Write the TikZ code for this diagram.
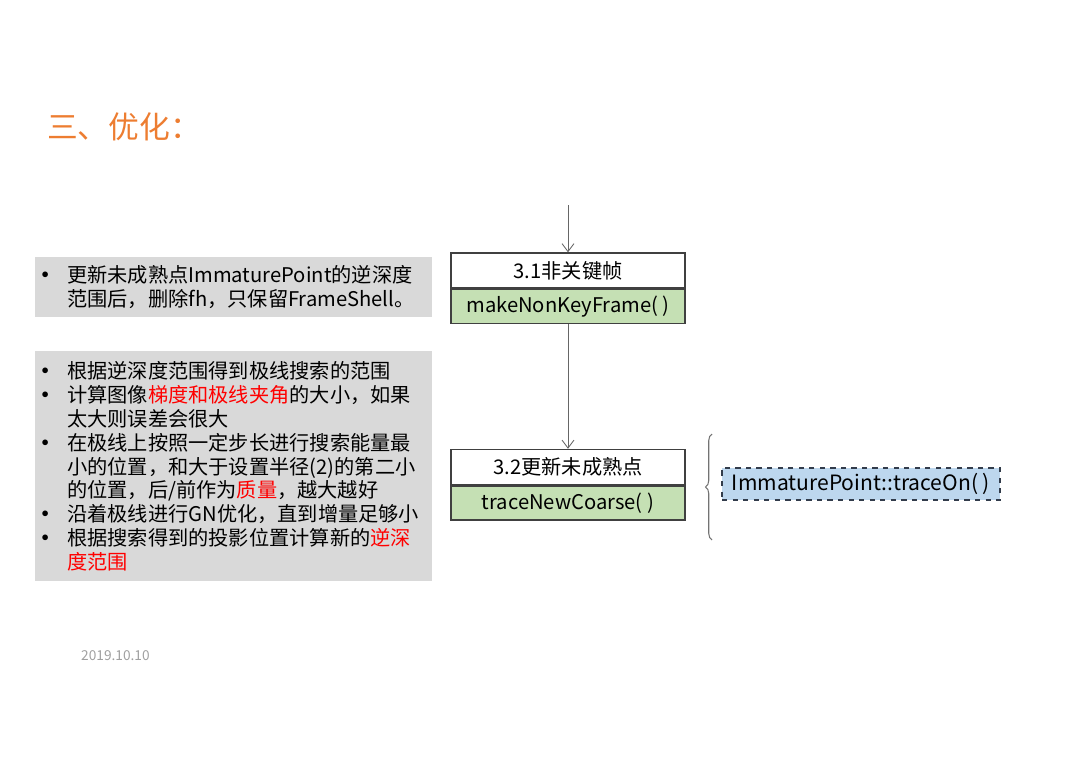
\documentclass[tikz,border=0pt]{standalone}
\usepackage{fontspec}
\setmainfont{Noto Sans CJK SC}
\usetikzlibrary{positioning,arrows.meta,decorations.pathreplacing}
\definecolor{TitleOrange}{RGB}{237,125,49}
\definecolor{NoteGray}{RGB}{217,217,217}
\definecolor{CallGreen}{RGB}{197,224,180}
\definecolor{HookBlue}{RGB}{189,215,238}
\definecolor{HookEdge}{RGB}{50,60,75}
\definecolor{DateGray}{RGB}{160,160,160}
\tikzset{
  note/.style={fill=NoteGray,inner xsep=0.2cm,inner ysep=0pt,text width=7.54cm,align=left,
    anchor=north west,font=\fontsize{11.5}{13.6}\selectfont},
  stage/.style={draw=black!75,line width=0.8pt,minimum width=4.68cm,minimum height=0.7cm,
    inner sep=0pt,font=\fontsize{11.5}{13.6}\selectfont},
  call/.style={stage,fill=CallGreen,minimum height=0.68cm},
  flow/.style={draw=black!60,line width=0.5pt,-{Straight Barb[length=1.6mm,width=2.4mm]}},
}
\tikzset{hook/.style={draw=HookEdge,fill=HookBlue,dashed,line width=1pt,minimum width=5.56cm,
    minimum height=0.64cm,inner sep=0pt,font=\fontsize{12}{14}\selectfont},
  group/.style={draw=black!55,line width=0.6pt,decorate,decoration={brace,amplitude=0.13cm}}}
\newcommand{\bul}{\makebox[0.44cm][l]{\kern-0.2cm\textbf{•}}}
\newcommand{\gap}{\hspace*{0.44cm}}

\begin{document}
\begin{tikzpicture}[x=0.02cm,y=-0.02cm]
\useasboundingbox (0,0) rectangle (1080,761);
\node[anchor=west,text=TitleOrange,font=\fontsize{17.5}{20}\selectfont] (title) at (41,127) {三、优化：};
% notes on the left
\node[note,minimum height=1.2cm] (note1) at (35,257) {\bul 更新未成熟点ImmaturePoint的逆深度\\
\gap 范围后，删除fh，只保留FrameShell。};
\node[note,minimum height=4.6cm] (note2) at (35,351) {\bul 根据逆深度范围得到极线搜索的范围\\
\bul 计算图像\textcolor{red}{梯度和极线夹角}的大小，如果\\
\gap 太大则误差会很大\\
\bul 在极线上按照一定步长进行搜索能量最\\
\gap 小的位置，和大于设置半径(2)的第二小\\
\gap 的位置，后/前作为\textcolor{red}{质量}，越大越好\\
\bul 沿着极线进行GN优化，直到增量足够小\\
\bul 根据搜索得到的投影位置计算新的\textcolor{red}{逆深}\\
\gap \textcolor{red}{度范围}};
% flow
\coordinate (entry) at (568,205);
\node[stage] (s1) at (568,270.5) {3.1非关键帧};
\node[call,below=0pt of s1] (c1) {makeNonKeyFrame( )};
\node[stage] (s2) at (568,467) {3.2更新未成熟点};
\node[call,below=0pt of s2] (c2) {traceNewCoarse( )};
\draw[flow] (entry) -- (s1);
\draw[flow] (c1) -- (s2);
\coordinate (grouplow) at (712,540);
\coordinate (grouphigh) at (712,434);
\draw[group] (grouplow) -- (grouphigh);
\node[hook] (trace) at (861,484) {ImmaturePoint::traceOn( )};
\node[anchor=west,text=DateGray,font=\fontsize{7.8}{9}\selectfont] (date) at (75,656) {2019.10.10};
\end{tikzpicture}
\end{document}
